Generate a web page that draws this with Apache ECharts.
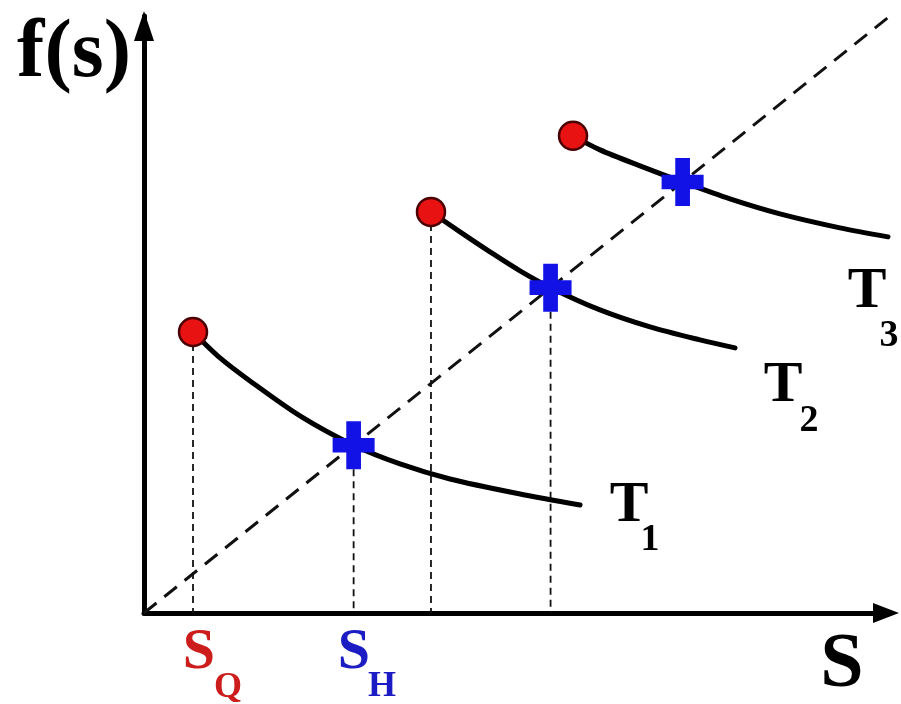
<!DOCTYPE html>
<html>
<head>
<meta charset="utf-8">
<script src="https://cdn.jsdelivr.net/npm/echarts@6/dist/echarts.min.js"></script>
<style>
  html, body { margin: 0; padding: 0; background: #ffffff; }
  #chart { width: 901px; height: 704px; }
</style>
</head>
<body>
<div id="chart"></div>
<script>
// Isotherm-style curves T1..T3 against the dashed line f(s) = s.
const curveT1 = [[6.57, 47.08], [10.19, 42.73], [14.21, 38.87], [20.91, 33.01], [28.1, 28.1],
                 [34.32, 24.97], [41.02, 22.45], [50.40, 19.94], [58.45, 18.10]];
const curveT2 = [[38.47, 67.19], [42.36, 63.84], [46.38, 60.49], [50.40, 57.31], [54.5, 54.5],
                 [61.13, 50.77], [67.83, 47.92], [74.53, 45.74], [79.22, 44.40]];
const curveT3 = [[57.51, 79.93], [61.13, 77.58], [66.49, 74.90], [72.2, 72.2], [78.55, 69.37],
                 [85.25, 66.86], [93.30, 64.51], [99.73, 63.00]];
const curveNames = ['T1', 'T2', 'T3'];
const diagonal = [[0, 0], [100, 100]];
// fixed points where each curve meets the diagonal
const crossings = [28.1, 54.5, 72.2];
// vertical guides dropped from the curve starts and crossings of T1 and T2
const guideX = [6.57, 28.1, 38.47, 54.5];
const guideTop = [47.08, 28.1, 67.19, 54.5];

const curves = [curveT1, curveT2, curveT3];
const starts = curves.map(c => c[0]);

const chart = echarts.init(document.getElementById('chart'), null, { renderer: 'canvas' });

function axis(offsetEnd, size) {
  return {
    type: 'value', min: 0, max: 100,
    axisLine: {
      show: true, onZero: false,
      symbol: ['none', 'triangle'], symbolSize: size, symbolOffset: [0, offsetEnd],
      lineStyle: { color: '#000', width: 5 }
    },
    axisTick: { show: false }, axisLabel: { show: false }, splitLine: { show: false }
  };
}

const series = [];
series.push({
  type: 'line', data: diagonal, symbol: 'none', z: 1, silent: true,
  lineStyle: { color: '#111', width: 3, type: [16, 10] }
});
guideX.forEach((x, i) => {
  series.push({
    type: 'line', data: [[x, guideTop[i]], [x, 0]], symbol: 'none', z: 1, silent: true,
    lineStyle: { color: '#111', width: 1.8, type: [7, 5] }
  });
});
curves.forEach((c, i) => {
  series.push({
    name: curveNames[i], type: 'line', data: c, symbol: 'none', smooth: 0.3, z: 2,
    lineStyle: { color: '#000', width: 5, cap: 'round' }
  });
});
series.push({
  type: 'scatter', data: crossings.map(v => [v, v]), z: 4,
  symbol: 'path://M13,0H27V16H40V30H27V46H13V30H0V16H13Z', symbolSize: [42, 48],
  itemStyle: { color: '#1212e6', opacity: 1 }
});
series.push({
  type: 'scatter', data: starts, z: 5, symbol: 'circle', symbolSize: 28,
  itemStyle: { color: '#e81212', borderColor: '#4a0000', borderWidth: 2.5, opacity: 1 }
});

chart.setOption({
  backgroundColor: '#ffffff',
  animation: false,
  grid: { left: 144, top: 16, width: 746, height: 597 },
  xAxis: axis(-4, [20, 26]),
  yAxis: axis(-10, [20, 30]),
  series: series
});

// Text labels anchored in data units; subscripts are offset in pixels.
const serif = '"Liberation Serif", "DejaVu Serif", serif';
const labels = [
  { at: [-9.38, 93.5], text: 'f(s)', size: 82, color: '#000' },
  { at: [93.57, -8.88], text: 'S', size: 78, color: '#000' },
  { at: [7.37, -6.7], text: 'S', size: 58, color: '#cc1c1c', sub: 'Q', subSize: 36, dx: 29, dy: 35 },
  { at: [28.15, -6.7], text: 'S', size: 58, color: '#1c1cc4', sub: 'H', subSize: 36, dx: 28, dy: 34 },
  { at: [65.01, 17.93], text: 'T', size: 58, color: '#000', sub: '1', subSize: 38, dx: 21, dy: 34 },
  { at: [85.66, 38.04], text: 'T', size: 58, color: '#000', sub: '2', subSize: 38, dx: 26, dy: 35 },
  { at: [96.92, 53.79], text: 'T', size: 58, color: '#000', sub: '3', subSize: 38, dx: 22, dy: 44 }
];
const graphic = [];
labels.forEach(l => {
  const p = chart.convertToPixel({ gridIndex: 0 }, l.at);
  graphic.push({
    type: 'text', x: p[0], y: p[1], z: 10,
    style: { text: l.text, fill: l.color, font: 'bold ' + l.size + 'px ' + serif,
             align: 'center', verticalAlign: 'middle' }
  });
  if (l.sub) {
    graphic.push({
      type: 'text', x: p[0] + l.dx, y: p[1] + l.dy, z: 10,
      style: { text: l.sub, fill: l.color, font: 'bold ' + l.subSize + 'px ' + serif,
               align: 'center', verticalAlign: 'middle' }
    });
  }
});
chart.setOption({ graphic: graphic });
</script>
</body>
</html>
